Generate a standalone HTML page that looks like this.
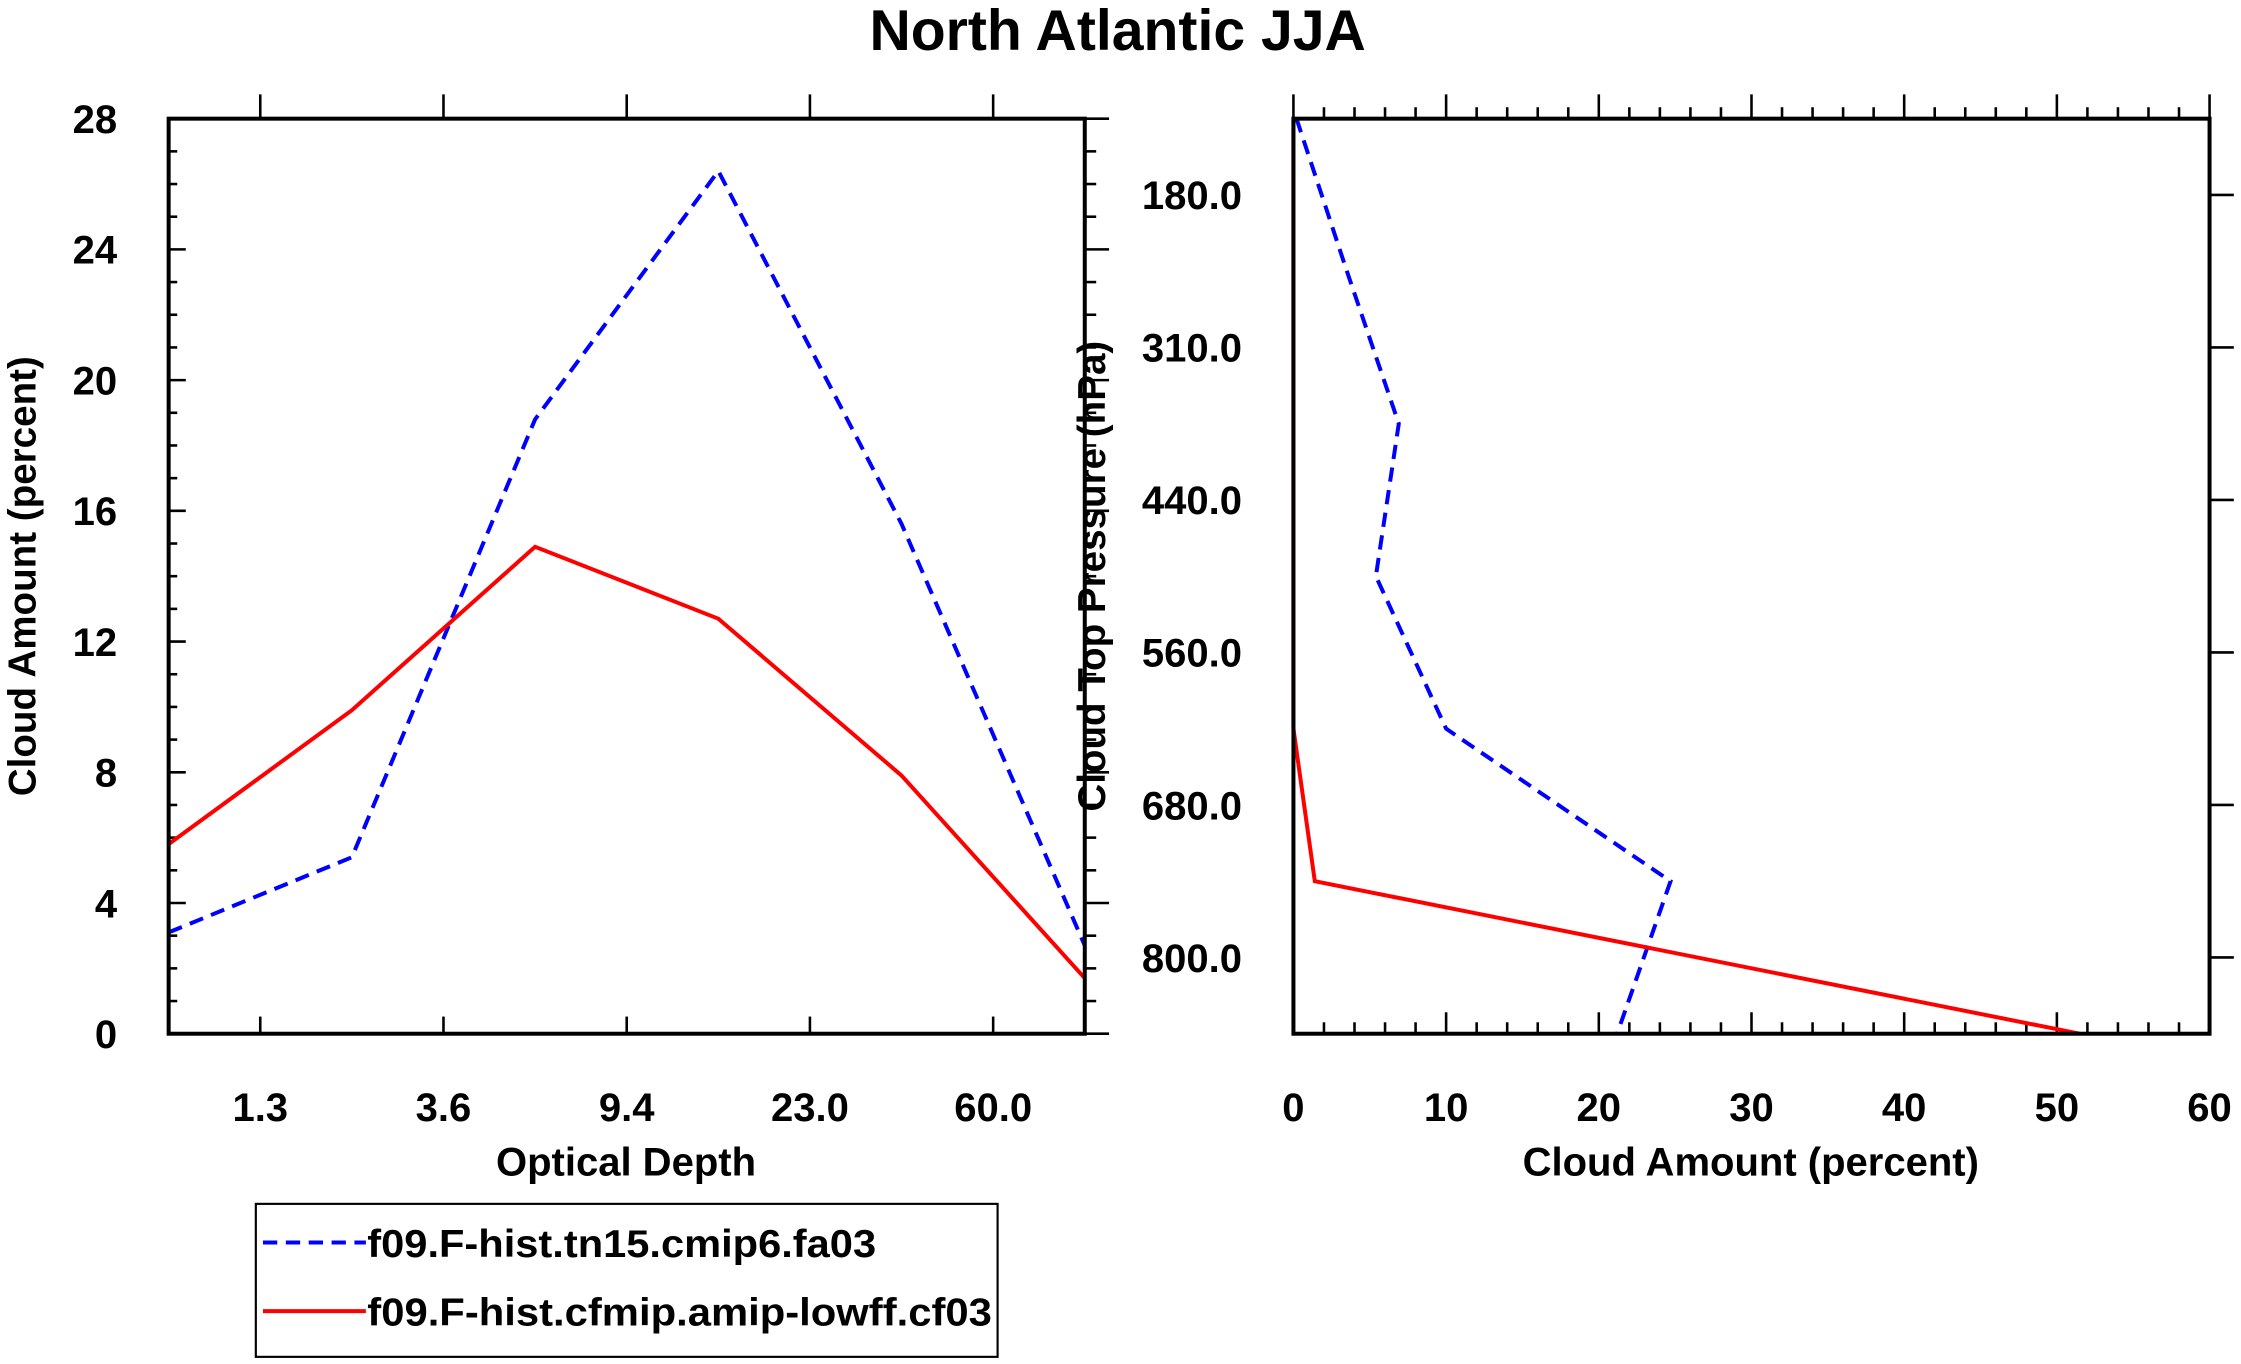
<!DOCTYPE html>
<html><head><meta charset="utf-8"><style>
html,body{margin:0;padding:0;background:#fff;}
svg{display:block;font-family:"Liberation Sans",Arial,sans-serif;font-weight:bold;}
</style></head><body>
<svg id="chart" width="2241" height="1364" viewBox="0 0 1568 954" preserveAspectRatio="none" xmlns="http://www.w3.org/2000/svg">
<text x="782" y="35" font-size="40" text-anchor="middle">North Atlantic JJA</text>
<g id="left"></g>
<g id="right"></g>
<g>
<rect x="179" y="842" width="519" height="107" fill="none" stroke="#000" stroke-width="1.5"/>
<line x1="184" y1="869" x2="256" y2="869" stroke="#0000ff" stroke-width="2.8" stroke-dasharray="10,6"/>
<text x="257" y="879" font-size="27" textLength="356" lengthAdjust="spacingAndGlyphs">f09.F-hist.tn15.cmip6.fa03</text>
<line x1="184" y1="917" x2="256" y2="917" stroke="#ff0000" stroke-width="2.8"/>
<text x="257" y="927" font-size="27" textLength="437" lengthAdjust="spacingAndGlyphs">f09.F-hist.cfmip.amip-lowff.cf03</text>
</g>
</svg>
<script>
const odTickLabels=["1.3","3.6","9.4","23.0","60.0"];
const odBlue=[3.1,5.4,18.8,26.4,15.6,2.7];
const odRed=[5.8,9.9,14.9,12.7,7.9,1.7];
const yTicksLeft=[0,4,8,12,16,20,24,28];
const presLabels=["180.0","310.0","440.0","560.0","680.0","800.0"];
const presBlue=[0.2,3.5,6.9,5.4,10.0,24.7,21.2];
const presRed=[0,0,0,0,0,1.4,51.5];
const xTicksRight=[0,10,20,30,40,50,60];

const NS="http://www.w3.org/2000/svg";
function mk(parent,tag,attrs){const e=document.createElementNS(NS,tag);for(const k in attrs)e.setAttribute(k,attrs[k]);parent.appendChild(e);return e;}
const L=document.getElementById('left'),R=document.getElementById('right');
const FS=28;
const lx0=118,lx1=759,ly0=83,ly1=723;
const lxPt=i=>lx0+i*(lx1-lx0)/(odBlue.length-1);
const ly=v=>ly1-v/28*(ly1-ly0);
function tick(g,x1,y1,x2,y2,name){const t=mk(g,'line',{x1,y1,x2,y2,stroke:'#000','stroke-width':1.8});

}
yTicksLeft.forEach((v,i)=>{const y=ly(v);
tick(L,lx0,y,lx0+12,y,'y-major-tick');tick(L,lx1,y,lx1+17,y,'y-major-tick-right');
const t=mk(L,'text',{x:82,y:y+10,'font-size':FS,'text-anchor':'end'});t.textContent=v;


if(i<yTicksLeft.length-1)for(let k=1;k<4;k++){const ym=ly(v+k);tick(L,lx0,ym,lx0+6,ym,'y-minor-tick');tick(L,lx1,ym,lx1+8,ym,'y-minor-tick-right');}
});
odTickLabels.forEach((s,i)=>{const x=(lxPt(i)+lxPt(i+1))/2;
tick(L,x,ly1,x,ly1-12,'x-major-tick');tick(L,x,ly0,x,ly0-17,'x-major-tick-top');
const t=mk(L,'text',{x:x,y:784,'font-size':FS,'text-anchor':'middle'});t.textContent=s;

});
function series(g,arr,xf,yf,color,dash,name){const p=mk(g,'polyline',{points:arr.map((v,i)=>xf(v,i)+','+yf(v,i)).join(' '),fill:'none',stroke:color,'stroke-width':2.8});
if(dash)p.setAttribute('stroke-dasharray',dash);

}
series(L,odBlue,(v,i)=>lxPt(i),v=>ly(v),'#0000ff','10,6','series-blue-optical');
series(L,odRed,(v,i)=>lxPt(i),v=>ly(v),'#ff0000',null,'series-red-optical');
let fr=mk(L,'rect',{x:lx0,y:ly0,width:lx1-lx0,height:ly1-ly0,fill:'none',stroke:'#000','stroke-width':2.8});


let t1=mk(L,'text',{x:438,y:822,'font-size':FS,'text-anchor':'middle'});t1.textContent='Optical Depth';


let t2=mk(L,'text',{transform:'translate(25,403) rotate(-90)','font-size':27,'text-anchor':'middle'});t2.textContent='Cloud Amount (percent)';


const rx0=905,rx1=1546,ry0=83,ry1=723;
const rx=v=>rx0+v/60*(rx1-rx0);
const ryPt=i=>ry0+i*(ry1-ry0)/(presBlue.length-1);
xTicksRight.forEach((v,i)=>{const x=rx(v);
tick(R,x,ry1,x,ry1-15,'x-major-tick');tick(R,x,ry0,x,ry0-17,'x-major-tick-top');
const t=mk(R,'text',{x:x,y:784,'font-size':FS,'text-anchor':'middle'});t.textContent=v;


if(i<xTicksRight.length-1)for(let k=2;k<10;k+=2){const xm=rx(v+k);tick(R,xm,ry1,xm,ry1-8,'x-minor-tick');tick(R,xm,ry0,xm,ry0-8,'x-minor-tick-top');}
});
presLabels.forEach((s,i)=>{const y=(ryPt(i)+ryPt(i+1))/2;
tick(R,rx1,y,rx1+17,y,'y-major-tick-right');
const t=mk(R,'text',{x:869,y:y+10,'font-size':FS,'text-anchor':'end'});t.textContent=s;

});
series(R,presBlue,v=>rx(v),(v,i)=>ryPt(i),'#0000ff','10,6','series-blue-pressure');
series(R,presRed,v=>rx(v),(v,i)=>ryPt(i),'#ff0000',null,'series-red-pressure');
fr=mk(R,'rect',{x:rx0,y:ry0,width:rx1-rx0,height:ry1-ry0,fill:'none',stroke:'#000','stroke-width':2.8});


let t3=mk(R,'text',{x:1225,y:822,'font-size':FS,'text-anchor':'middle'});t3.textContent='Cloud Amount (percent)';


let t4=mk(R,'text',{transform:'translate(773,403) rotate(-90)','font-size':27,'text-anchor':'middle'});t4.textContent='Cloud Top Pressure (hPa)';


</script>
</body></html>
